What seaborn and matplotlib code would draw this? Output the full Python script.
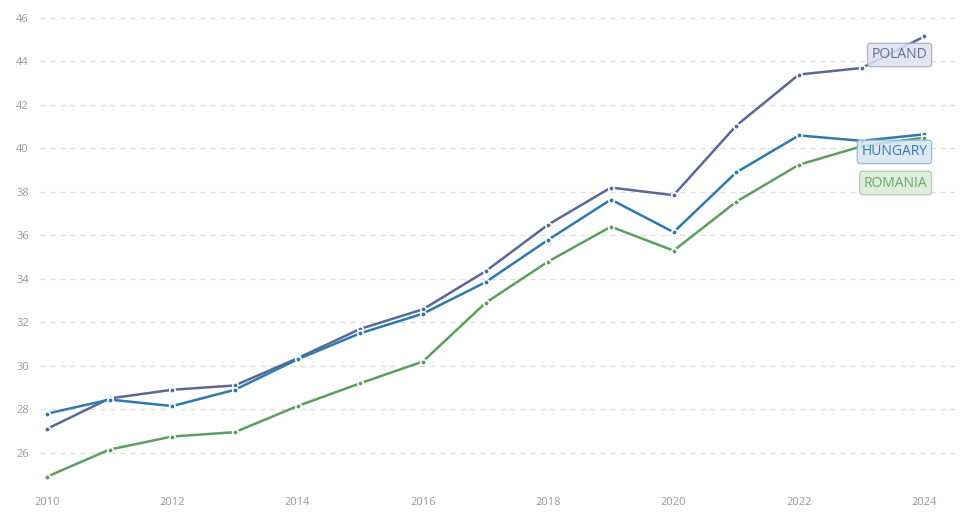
import matplotlib
matplotlib.use("Agg")
import matplotlib.pyplot as plt
import seaborn as sns
import pandas as pd

years = list(range(2010, 2025))
poland = [27.1, 28.5, 28.9, 29.1, 30.35, 31.7, 32.6, 34.35, 36.5, 38.2, 37.85, 41.05, 43.4, 43.7, 45.15]
hungary = [27.8, 28.45, 28.15, 28.9, 30.3, 31.5, 32.4, 33.85, 35.8, 37.65, 36.15, 38.9, 40.6, 40.35, 40.65]
romania = [24.9, 26.15, 26.75, 26.95, 28.15, 29.2, 30.2, 32.9, 34.8, 36.4, 35.3, 37.55, 39.25, 40.1, 40.5]
countries = ["POLAND", "HUNGARY", "ROMANIA"]
colors = {"POLAND": "#5b6796", "HUNGARY": "#2f79ad", "ROMANIA": "#5c9e5f"}
label_fc = {"POLAND": "#dfe1f0", "HUNGARY": "#d5e7f4", "ROMANIA": "#d9ecd6"}
label_ec = {"POLAND": "#a4aac8", "HUNGARY": "#8db8d6", "ROMANIA": "#a8d0a4"}
label_tc = {"POLAND": "#646c94", "HUNGARY": "#3579a8", "ROMANIA": "#6aa66a"}
label_y = {"POLAND": 44.3, "HUNGARY": 39.84, "ROMANIA": 38.41}
y_ticks = list(range(26, 47, 2))
x_ticks = list(range(2010, 2025, 2))

df = pd.DataFrame({
    "year": years * 3,
    "value": poland + hungary + romania,
    "country": sum([[c] * len(years) for c in countries], []),
})

sns.set_style("white")
plt.rcParams["font.family"] = ["Open Sans", "DejaVu Sans"]

fig = plt.figure(figsize=(9.6, 5.27), dpi=100)
W, H = 960, 527
left, right, top, bottom = 40, 955, 18, 480
ax = fig.add_axes([left / W, 1 - bottom / H, (right - left) / W, (bottom - top) / H])

sns.lineplot(data=df, x="year", y="value", hue="country", palette=colors,
             marker="o", markersize=4, markeredgecolor="white", markeredgewidth=1.2,
             linewidth=1.8, legend=False, ax=ax)

ax.set_xlim(2009.89, 2024.49)
ax.set_ylim(24.75, 46.0)
ax.set_yticks(y_ticks)
ax.set_xticks(x_ticks)
ax.set_xticklabels([str(x) for x in x_ticks])
ax.set_yticklabels([str(y) for y in y_ticks])
for s in ax.spines.values():
    s.set_visible(False)
ax.grid(axis="y", color="#dcdcdc", linestyle=(0, (4, 4)), linewidth=0.9)
ax.grid(axis="x", visible=False)
ax.set_axisbelow(True)
ax.tick_params(axis="y", length=0, pad=8, labelsize=8, labelcolor="#999999")
ax.tick_params(axis="x", length=4, width=0.8, color="#cccccc", direction="out", pad=8,
               labelsize=8, labelcolor="#999999")
ax.set_xlabel("")
ax.set_ylabel("")

for c in countries:
    ax.text(2024.05, label_y[c], c, ha="right", va="center", fontsize=10,
            color=label_tc[c],
            bbox=dict(boxstyle="round,pad=0.3,rounding_size=0.2", fc=label_fc[c],
                      ec=label_ec[c], lw=1, alpha=0.85))

fig.savefig("out.png", dpi=100)
